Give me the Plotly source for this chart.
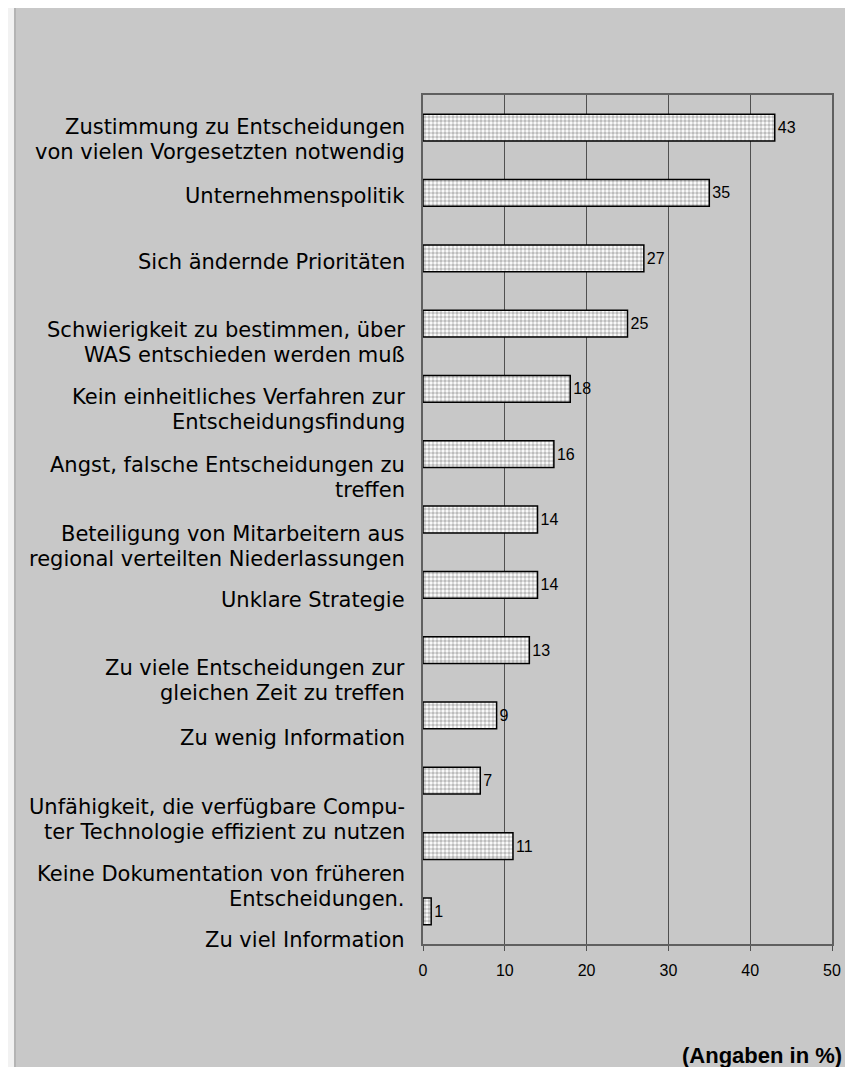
import plotly.graph_objects as go

# ---- data ----
labels = [
    "Zustimmung zu Entscheidungen<br>von vielen Vorgesetzten notwendig",
    "Unternehmenspolitik",
    "Sich ändernde Prioritäten",
    "Schwierigkeit zu bestimmen, über<br>WAS entschieden werden muß",
    "Kein einheitliches Verfahren zur<br>Entscheidungsfindung",
    "Angst, falsche Entscheidungen zu<br>treffen",
    "Beteiligung von Mitarbeitern aus<br>regional verteilten Niederlassungen",
    "Unklare Strategie",
    "Zu viele Entscheidungen zur<br>gleichen Zeit zu treffen",
    "Zu wenig Information",
    "Unfähigkeit, die verfügbare Compu-<br>ter Technologie effizient zu nutzen",
    "Keine Dokumentation von früheren<br>Entscheidungen.",
    "Zu viel Information",
]
values = [43, 35, 27, 25, 18, 16, 14, 14, 13, 9, 7, 11, 1]
x_ticks = [0, 10, 20, 30, 40, 50]

# layout: vertical offsets of the category labels relative to their bars (in category units)
label_offsets = [0.18, 0.05, 0.06, 0.29, 0.32, 0.35, 0.42, 0.23, 0.47, 0.35, 0.60, 0.62, 0.44]
line_gap = 0.383  # distance between two label lines, in category units

positions = list(range(len(values)))
NARROW = "Liberation Sans Narrow, Arial Narrow, Liberation Sans, Arial"

fig = go.Figure()
fig.add_trace(go.Bar(
    x=values,
    y=positions,
    orientation="h",
    marker=dict(
        color="white",
        line=dict(color="black", width=1.5),
        pattern=dict(shape=".", fgcolor="#7c7c7c", bgcolor="white", size=4, solidity=0.6),
    ),
    text=[str(v) for v in values],
    textposition="outside",
    textfont=dict(family=NARROW, size=16, color="black"),
    cliponaxis=False,
    showlegend=False,
))

annotations = []
for i, (lab, off) in enumerate(zip(labels, label_offsets)):
    lines = lab.split("<br>")
    n = len(lines)
    for k, line in enumerate(lines):
        annotations.append(dict(
            text=line, xref="paper", yref="y", x=-0.039,
            y=i + off + (k - (n - 1) / 2) * line_gap,
            xanchor="right", yanchor="middle", align="right", showarrow=False,
            font=dict(family="DejaVu Sans", size=21, color="black"),
        ))
annotations.append(dict(
    text="<b>(Angaben in %)</b>", xref="paper", yref="paper", x=1.029, y=-0.131,
    xanchor="right", yanchor="middle", showarrow=False,
    font=dict(family=NARROW, size=22, color="black"),
))

shapes = [
    dict(type="rect", xref="paper", yref="paper", x0=(3 - 415) / 413, x1=1.2,
         y0=-0.3, y1=1.3, fillcolor="#c8c8c8",
         line=dict(color="#b4b4b4", width=2), layer="below"),
]

fig.update_layout(
    width=845, height=1059,
    margin=dict(l=415, r=17, t=87, b=123),
    paper_bgcolor="#f2f2f2",
    plot_bgcolor="white",
    bargap=0.59,
    annotations=annotations,
    shapes=shapes,
    xaxis=dict(
        range=[0, 50], tickvals=x_ticks, ticktext=[str(t) for t in x_ticks],
        showgrid=True, gridcolor="#505050", gridwidth=1,
        showline=True, linecolor="#606060", linewidth=2, mirror=True,
        ticks="outside", ticklen=5, tickcolor="#505050",
        ticklabelstandoff=6,
        tickfont=dict(family=NARROW, size=16, color="black"),
        zeroline=False, fixedrange=True,
    ),
    yaxis=dict(
        range=[len(values) - 0.5, -0.5],
        showticklabels=False, showgrid=False, zeroline=False,
        showline=True, linecolor="#606060", linewidth=2, mirror=True,
        ticks="", fixedrange=True,
    ),
)

fig.write_html("out.html")
